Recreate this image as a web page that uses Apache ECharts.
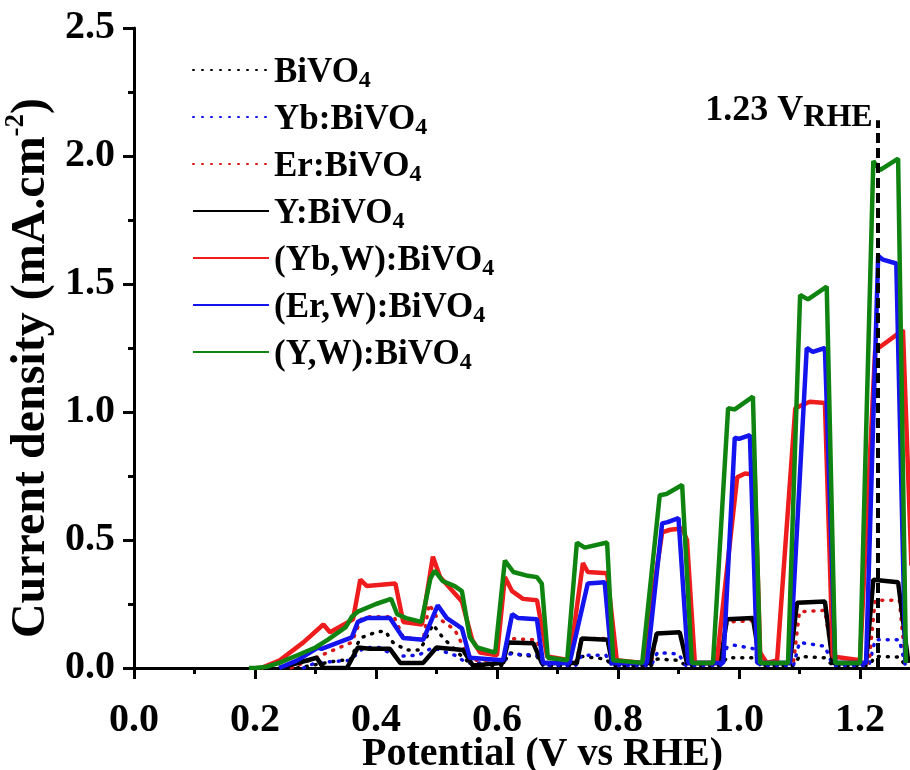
<!DOCTYPE html>
<html>
<head>
    <meta charset="utf-8">
    <title>Chopped LSV</title>
    <script src="https://cdn.jsdelivr.net/npm/echarts@6/dist/echarts.min.js"></script>
    <style>
        html, body { margin: 0; padding: 0; background: #fff; }
        #chart { width: 910px; height: 770px; }
    </style>
</head>
<body>
<div id="chart"></div>
<script>
    // values, [potential (V vs RHE), current density (mA.cm-2)]
    var bivo4 = [[0.27,0],[0.34,0.03],[0.357,0.03],[0.374,0.117],[0.40,0.14],[0.415,0.145],[0.428,0.1],[0.45,0.07],[0.473,0.07],[0.494,0.17],[0.51,0.12],[0.527,0.08],[0.542,0.045],[0.56,0.01],[0.61,0.01],[0.62,0.06],[0.64,0.05],[0.666,0.045],[0.676,0.01],[0.73,0.01],[0.74,0.045],[0.78,0.035],[0.79,0.01],[0.855,0.01],[0.865,0.035],[0.90,0.03],[0.912,0.01],[0.97,0.01],[0.98,0.04],[1.025,0.04],[1.035,0.01],[1.09,0.01],[1.1,0.045],[1.142,0.04],[1.155,0.01],[1.215,0.01],[1.225,0.045],[1.265,0.043],[1.275,0.01]];
    var ybBivo4 = [[0.28,0],[0.30,0.02],[0.357,0.03],[0.38,0.08],[0.405,0.08],[0.434,0.045],[0.47,0.05],[0.494,0.08],[0.517,0.06],[0.53,0.05],[0.55,0.02],[0.61,0.02],[0.62,0.055],[0.666,0.05],[0.676,0.01],[0.73,0.01],[0.74,0.05],[0.78,0.05],[0.79,0.01],[0.855,0.01],[0.865,0.06],[0.9,0.055],[0.912,0.01],[0.97,0.01],[0.98,0.08],[0.99,0.09],[1.025,0.075],[1.035,0.01],[1.09,0.01],[1.1,0.1],[1.142,0.085],[1.155,0.01],[1.215,0.01],[1.225,0.11],[1.265,0.11],[1.275,0.01]];
    var erBivo4 = [[0.26,0],[0.30,0.04],[0.36,0.1],[0.375,0.19],[0.39,0.2],[0.43,0.2],[0.445,0.12],[0.478,0.11],[0.488,0.25],[0.50,0.2],[0.53,0.15],[0.545,0.08],[0.56,0.03],[0.61,0.03],[0.62,0.115],[0.666,0.11],[0.676,0.02],[0.73,0.02],[0.74,0.115],[0.782,0.115],[0.79,0.02],[0.855,0.02],[0.865,0.135],[0.902,0.14],[0.914,0.02],[0.97,0.02],[0.98,0.18],[1.025,0.185],[1.035,0.02],[1.09,0.02],[1.1,0.22],[1.142,0.225],[1.155,0.02],[1.215,0.02],[1.225,0.265],[1.265,0.265],[1.275,0.02]];
    var yBivo4 = [[0.24,0],[0.302,0.04],[0.313,0.0],[0.352,0.0],[0.37,0.08],[0.39,0.075],[0.423,0.075],[0.44,0.02],[0.478,0.02],[0.5,0.08],[0.544,0.07],[0.56,0.01],[0.61,0.02],[0.618,0.1],[0.66,0.097],[0.674,0.02],[0.732,0.02],[0.74,0.115],[0.783,0.11],[0.79,0.02],[0.853,0.02],[0.864,0.135],[0.902,0.14],[0.914,0.02],[0.969,0.02],[0.98,0.19],[1.023,0.195],[1.035,0.02],[1.084,0.02],[1.096,0.255],[1.142,0.26],[1.155,0.02],[1.21,0.02],[1.222,0.345],[1.263,0.335],[1.28,0.02]];
    var ybwBivo4 = [[0.21,0],[0.241,0.03],[0.28,0.1],[0.313,0.17],[0.324,0.14],[0.362,0.19],[0.374,0.345],[0.385,0.32],[0.432,0.33],[0.445,0.18],[0.476,0.17],[0.494,0.435],[0.506,0.355],[0.542,0.26],[0.559,0.11],[0.572,0.06],[0.6,0.05],[0.613,0.355],[0.625,0.30],[0.643,0.27],[0.666,0.265],[0.683,0.045],[0.72,0.03],[0.742,0.41],[0.75,0.375],[0.782,0.37],[0.798,0.03],[0.841,0.02],[0.873,0.53],[0.886,0.54],[0.906,0.545],[0.914,0.5],[0.927,0.02],[0.963,0.02],[0.997,0.745],[1.01,0.76],[1.026,0.755],[1.035,0.06],[1.046,0.02],[1.063,0.03],[1.093,1.015],[1.117,1.04],[1.142,1.035],[1.155,0.045],[1.2,0.03],[1.225,1.24],[1.271,1.32],[1.285,0.4]];
    var erwBivo4 = [[0.24,0],[0.27,0.03],[0.304,0.08],[0.31,0.075],[0.36,0.12],[0.37,0.18],[0.385,0.195],[0.423,0.195],[0.445,0.117],[0.478,0.11],[0.502,0.245],[0.517,0.195],[0.542,0.155],[0.555,0.04],[0.61,0.03],[0.625,0.21],[0.635,0.195],[0.666,0.19],[0.676,0.02],[0.72,0.02],[0.75,0.33],[0.778,0.335],[0.79,0.02],[0.848,0.02],[0.873,0.565],[0.882,0.57],[0.9,0.585],[0.916,0.02],[0.974,0.02],[0.993,0.9],[1.0,0.895],[1.018,0.91],[1.03,0.02],[1.084,0.02],[1.112,1.25],[1.122,1.235],[1.142,1.25],[1.159,0.02],[1.21,0.02],[1.23,1.61],[1.238,1.595],[1.26,1.58],[1.275,0.02]];
    var ywBivo4 = [[0.19,0],[0.20,0.0],[0.22,0.005],[0.24,0.02],[0.27,0.05],[0.30,0.08],[0.32,0.11],[0.35,0.16],[0.36,0.2],[0.37,0.22],[0.40,0.25],[0.425,0.27],[0.435,0.21],[0.45,0.195],[0.475,0.18],[0.49,0.35],[0.497,0.38],[0.51,0.34],[0.53,0.32],[0.542,0.30],[0.555,0.12],[0.567,0.08],[0.597,0.06],[0.613,0.42],[0.627,0.375],[0.651,0.36],[0.666,0.355],[0.674,0.33],[0.684,0.04],[0.716,0.03],[0.732,0.49],[0.745,0.47],[0.782,0.49],[0.792,0.03],[0.84,0.02],[0.869,0.675],[0.88,0.68],[0.906,0.715],[0.922,0.02],[0.957,0.02],[0.982,1.015],[0.993,1.01],[1.023,1.06],[1.035,0.02],[1.081,0.02],[1.101,1.457],[1.114,1.44],[1.145,1.49],[1.159,0.02],[1.2,0.02],[1.222,1.98],[1.233,1.945],[1.263,1.99],[1.276,0.02]];

    var names = ['BiVO4', 'Yb:BiVO4', 'Er:BiVO4', 'Y:BiVO4', '(Yb,W):BiVO4', '(Er,W):BiVO4', '(Y,W):BiVO4'];
    var refPotential = 1.23;   // dashed marker at 1.23 V_RHE
    var refLineTop = 2.14;

    var font = 'Liberation Serif';
    var dotted = [1, 8];

    function line(name, data, color, dash) {
        return {
            name: name,
            type: 'line',
            data: data,
            symbol: 'none',
            color: color,
            lineStyle: {color: color, width: dash ? 3.5 : 4.5, type: dash ? dotted : 'solid', cap: dash ? 'round' : 'butt'}
        };
    }

    var chart = echarts.init(document.getElementById('chart'));
    var series = [
        line(names[0], bivo4, '#000000', true),
        line(names[1], ybBivo4, '#1010e8', true),
        line(names[2], erBivo4, '#d81818', true),
        line(names[3], yBivo4, '#000000', false),
        line(names[4], ybwBivo4, '#ee1c1c', false),
        line(names[5], erwBivo4, '#1414ee', false),
        line(names[6], ywBivo4, '#108410', false)
    ];
    series[6].markLine = {
        silent: true,
        symbol: ['none', 'none'],
        label: {show: false},
        lineStyle: {color: '#000', width: 4, type: [10, 5]},
        data: [[{coord: [refPotential, 0]}, {coord: [refPotential, refLineTop]}]]
    };
    series[6].markPoint = {
        silent: true,
        symbol: 'circle',
        symbolSize: 1,
        itemStyle: {color: 'rgba(0,0,0,0)'},
        label: {
            show: true,
            position: 'left',
            distance: 5,
            offset: [0, -9],
            formatter: '1.23 V{s|RHE}',
            color: '#000',
            fontFamily: font,
            fontWeight: 'bold',
            fontSize: 36,
            lineHeight: 46,
            rich: {
                s: {fontFamily: font, fontWeight: 'bold', fontSize: 32, lineHeight: 26, verticalAlign: 'bottom', color: '#000'}
            }
        },
        data: [{coord: [refPotential, refLineTop]}]
    };

    var option = {
        animation: false,
        backgroundColor: '#fff',
        grid: {left: 134, top: 28, right: -71, bottom: 102, containLabel: false, outerBoundsMode: 'none'},
        legend: {
            orient: 'vertical',
            left: 187,
            top: 42,
            data: names,
            selectedMode: false,
            itemWidth: 76,
            itemHeight: 14,
            itemGap: 1,
            itemTextGap: 6,
            itemStyle: {opacity: 0},
            formatter: function (n) { return n.replace(/4$/, '{s|4}'); },
            textStyle: {
                fontFamily: font, fontWeight: 'bold', fontSize: 35, color: '#000', lineHeight: 40,
                padding: [6, 0, 0, 0],
                rich: {
                    s: {fontFamily: font, fontWeight: 'bold', fontSize: 24, lineHeight: 14, verticalAlign: 'bottom', color: '#000'}
                }
            }
        },
        xAxis: [{
            type: 'value',
            min: 0,
            max: 1.4,
            interval: 0.2,
            name: 'Potential (V vs RHE)',
            nameLocation: 'middle',
            nameGap: 67,
            nameMoveOverlap: false,
            nameTextStyle: {fontFamily: font, fontWeight: 'bold', fontSize: 40, color: '#000', padding: [0, 30, 0, 0]},
            axisLine: {onZero: false, lineStyle: {color: '#000', width: 3}},
            axisTick: {show: true, inside: false, length: 11, lineStyle: {color: '#000', width: 3}},
            minorTick: {show: true, splitNumber: 2, length: 6, lineStyle: {color: '#000', width: 3}},
            splitLine: {show: false},
            axisLabel: {
                fontFamily: font, fontWeight: 'bold', fontSize: 40, color: '#000', margin: 33,
                formatter: function (v) { return v.toFixed(1); }
            }
        }, {
            type: 'value',
            position: 'top',
            min: 0,
            max: 1.4,
            axisLine: {show: true, lineStyle: {color: '#000', width: 3}},
            axisTick: {show: false},
            axisLabel: {show: false},
            splitLine: {show: false}
        }],
        yAxis: {
            type: 'value',
            min: 0,
            max: 2.5,
            interval: 0.5,
            name: '{a|Current density (mA.cm}{p|-2}{a|)}',
            nameLocation: 'middle',
            nameRotate: 90,
            nameGap: 73,
            nameMoveOverlap: false,
            nameTextStyle: {
                fontFamily: font, fontWeight: 'bold', fontSize: 48, color: '#000', padding: [0, 40, 0, 0],
                rich: {
                    a: {fontFamily: font, fontWeight: 'bold', fontSize: 48, lineHeight: 58, color: '#000'},
                    p: {fontFamily: font, fontWeight: 'bold', fontSize: 27, lineHeight: 40, verticalAlign: 'top', color: '#000'}
                }
            },
            axisLine: {show: true, lineStyle: {color: '#000', width: 3}},
            axisTick: {show: true, inside: false, length: 11, lineStyle: {color: '#000', width: 3}},
            minorTick: {show: true, splitNumber: 2, length: 6, lineStyle: {color: '#000', width: 3}},
            splitLine: {show: false},
            axisLabel: {
                fontFamily: font, fontWeight: 'bold', fontSize: 40, color: '#000', margin: 19,
                formatter: function (v) { return v.toFixed(1); }
            }
        },
        series: series
    };
    chart.setOption(option);
</script>
</body>
</html>
